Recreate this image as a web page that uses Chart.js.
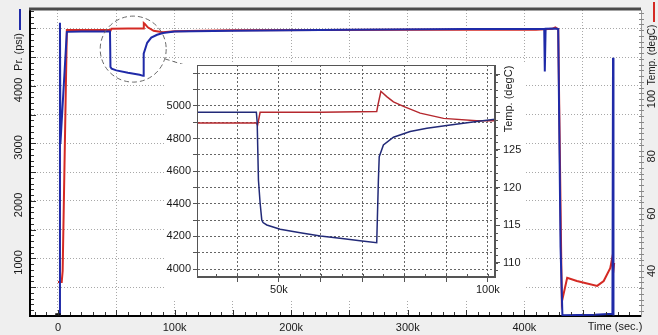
<!DOCTYPE html>
<html>
<head>
<meta charset="utf-8">
<script src="https://cdn.jsdelivr.net/npm/chart.js@4.4.1/dist/chart.umd.min.js"></script>
<style>
  html, body { margin: 0; padding: 0; background: #efefef; }
  #wrap { position: relative; width: 658px; height: 335px; overflow: hidden; }
  #grafico { position: absolute; left: 0; top: 0; }
  #detalhe { position: absolute; left: 164px; top: 64px; }
</style>
</head>
<body>
<div id="wrap">
  <canvas id="grafico" width="658" height="335" style="width:658px;height:335px"></canvas>
  <canvas id="detalhe" width="361" height="236" style="width:361px;height:236px"></canvas>
</div>
<script>
  // main chart: whole test
  const prTime  = [0, 1500, 1700, 2100, 7600, 20000, 44600, 45000, 46000, 50000, 60000, 70000, 73000, 73500, 76500, 80000, 85000, 90000, 100000, 150000, 250000, 350000, 417000, 417500, 418200, 427000, 429000, 431000, 432600, 460000, 475500, 476000, 476400];
  const prVal   = [0, 0, 5100, 3000, 4940, 4945, 4945, 4330, 4300, 4270, 4230, 4195, 4175, 4560, 4750, 4840, 4890, 4920, 4945, 4960, 4975, 4990, 4995, 4250, 4995, 5000, 4990, 1200, 15, 20, 40, 4490, 10];
  const tempTime = [0, 3200, 4000, 7600, 20000, 44600, 45000, 45800, 60000, 73000, 73600, 74500, 77000, 82000, 90000, 100000, 150000, 300000, 410000, 424000, 426500, 429000, 432100, 436700, 445000, 462400, 468000, 473600, 475300, 476100, 477000];
  const tempVal  = [36.2, 36.2, 40, 124.1, 124.1, 124.1, 123.8, 124.5, 124.6, 124.6, 126.5, 126.2, 125, 123.8, 123.3, 123.6, 124, 124.2, 124.2, 124.5, 125, 124.3, 29.2, 37.6, 36.5, 34.8, 36.5, 41, 44.5, 39.3, 42.8];

  const timeGrid = [0, 50000, 100000, 150000, 200000, 250000, 300000, 350000, 400000, 450000, 500000];
  const timeLabeled = [0, 100000, 200000, 300000, 400000];
  const psiGrid = [500, 1000, 1500, 2000, 2500, 3000, 3500, 4000, 4500, 5000];
  const psiLabels = [1000, 2000, 3000, 4000];
  const tempLabels = [40, 60, 80, 100];

  // inset: zoom on the drop between 30k and 100k
  const detTime = [30400, 44600, 44800, 45100, 45500, 45900, 46200, 47100, 50300, 55100, 59900, 64600, 69400, 73400, 73800, 74000, 75000, 77400, 81400, 85400, 91000, 97300, 101700];
  const detPr   = [4962, 4962, 4900, 4546, 4405, 4300, 4285, 4270, 4244, 4223, 4203, 4188, 4174, 4161, 4546, 4689, 4761, 4808, 4843, 4863, 4883, 4904, 4918];
  const detTempTime = [30400, 44600, 44900, 45500, 60000, 73400, 73700, 74400, 75800, 77400, 79800, 83800, 89400, 97300, 101700];
  const detTemp     = [128.6, 128.6, 128.3, 130.0, 130.0, 130.1, 131.0, 132.8, 132.1, 131.4, 130.8, 129.9, 129.2, 128.9, 128.9];

  const detTimeGrid = [40000, 50000, 60000, 70000, 80000, 90000, 100000];
  const detPsiGrid = [4000, 4100, 4200, 4300, 4400, 4500, 4600, 4700, 4800, 4900, 5000, 5100, 5200];
  const detPsiLabels = [4000, 4200, 4400, 4600, 4800, 5000];
  const detTempGrid = [110, 115, 120, 125, 130, 135];
  const detTempLabels = [110, 115, 120, 125];

  const fonte = "Arial, 'Liberation Sans', sans-serif";
  const azul = '#1f2aa8';
  const vermelho = '#d42a24';

  const pts = (xs, ys) => xs.map((x, i) => ({ x: x, y: ys[i] }));
  const fixTicks = vals => s => { s.ticks = vals.map(v => ({ value: v })); };
  // fixed axis size, no extra room for half labels
  const largura = w => s => { s.width = w; s.paddingTop = 0; s.paddingBottom = 0; };
  const altura = h => s => { s.height = h; s.paddingLeft = 0; s.paddingRight = 0; };

  function textoVertical(ctx, txt, x, y) {
    ctx.save();
    ctx.translate(x, y);
    ctx.rotate(-Math.PI / 2);
    ctx.textAlign = 'center';
    ctx.textBaseline = 'middle';
    ctx.fillText(txt, 0, 0);
    ctx.restore();
  }

  const decorPrincipal = {
    id: 'decorPrincipal',
    beforeDraw(chart) {
      const { ctx, chartArea: a } = chart;
      ctx.save();
      ctx.fillStyle = '#efefef';
      ctx.fillRect(0, 0, chart.width, chart.height);
      ctx.fillStyle = '#ffffff';
      ctx.fillRect(a.left, a.top, a.right - a.left, a.bottom - a.top);
      ctx.restore();
    },
    afterDraw(chart) {
      const { ctx, chartArea: a, scales: s } = chart;
      ctx.save();
      // top frame line
      ctx.strokeStyle = '#4a4a4a';
      ctx.lineWidth = 3;
      ctx.beginPath();
      ctx.moveTo(a.left - 1, a.top - 1);
      ctx.lineTo(a.right, a.top - 1);
      ctx.stroke();

      // minor ticks
      ctx.lineWidth = 1;
      ctx.strokeStyle = '#333';
      ctx.beginPath();
      for (let v = 100; v < 5320; v += 100) {
        const y = Math.round(s.y.getPixelForValue(v)) + 0.5;
        ctx.moveTo(a.left + 1, y);
        ctx.lineTo(a.left + 1 + (v % 500 === 0 ? 5 : 3), y);
      }
      for (let t = -20000; t < 500000; t += 10000) {
        const x = Math.round(s.x.getPixelForValue(t)) + 0.5;
        ctx.moveTo(x, a.bottom - 1);
        ctx.lineTo(x, a.bottom - 1 - (t % 50000 === 0 ? 5 : 3));
      }
      ctx.stroke();
      ctx.strokeStyle = '#888';
      ctx.beginPath();
      for (let v = 26; v < 131; v += 2) {
        const y = Math.round(s.y2.getPixelForValue(v)) + 0.5;
        ctx.moveTo(a.right - 2, y);
        ctx.lineTo(a.right + 3, y);
      }
      ctx.stroke();

      // axis labels
      ctx.fillStyle = '#1a1a1a';
      ctx.font = '11px ' + fonte;
      psiLabels.forEach(v => textoVertical(ctx, String(v), 19, s.y.getPixelForValue(v) + 4));
      tempLabels.forEach(v => textoVertical(ctx, String(v), 652, s.y2.getPixelForValue(v)));
      textoVertical(ctx, 'Pr. (psi)', 19, 52);
      ctx.textAlign = 'center';
      ctx.textBaseline = 'middle';
      ctx.fillText('Time (sec.)', 615, 327);
      ctx.font = '10px ' + fonte;
      textoVertical(ctx, 'Temp. (degC)', 652, 55);

      // legend marks
      ctx.lineWidth = 2;
      ctx.strokeStyle = azul;
      ctx.beginPath(); ctx.moveTo(20, 9); ctx.lineTo(20, 30); ctx.stroke();
      ctx.strokeStyle = vermelho;
      ctx.beginPath(); ctx.moveTo(654, 2); ctx.lineTo(654, 22); ctx.stroke();

      // zoom circle and leader line
      const cx = s.x.getPixelForValue(64500);
      const cy = s.y.getPixelForValue(4640);
      const r = 33;
      ctx.lineWidth = 1;
      ctx.strokeStyle = '#6a6a6a';
      ctx.setLineDash([5, 3]);
      ctx.beginPath();
      ctx.arc(cx, cy, r, 0, Math.PI * 2);
      ctx.stroke();
      const ex = 188, ey = 66;
      const ang = Math.atan2(ey - cy, ex - cx);
      ctx.beginPath();
      ctx.moveTo(cx + r * Math.cos(ang), cy + r * Math.sin(ang));
      ctx.lineTo(ex, ey);
      ctx.stroke();
      ctx.restore();
    }
  };

  new Chart(document.getElementById('grafico'), {
    type: 'line',
    data: {
      datasets: [
        {
          label: 'Pr. (psi)',
          data: pts(prTime, prVal),
          yAxisID: 'y',
          borderColor: azul,
          borderWidth: 2,
          pointRadius: c => c.dataIndex === 0 ? 2.5 : 0,
          pointStyle: 'rect',
          pointBackgroundColor: '#111',
          pointBorderColor: '#111'
        },
        {
          label: 'Temp. (degC)',
          data: pts(tempTime, tempVal),
          yAxisID: 'y2',
          borderColor: vermelho,
          borderWidth: 2,
          pointRadius: 0
        }
      ]
    },
    options: {
      responsive: false,
      animation: false,
      events: [],
      layout: { padding: { top: 10, left: 0, right: 0, bottom: 0 } },
      plugins: { legend: { display: false }, tooltip: { enabled: false } },
      scales: {
        x: {
          type: 'linear',
          min: -24000,
          max: 500000,
          afterBuildTicks: fixTicks(timeGrid),
          afterFit: altura(19),
          grid: { color: '#a8a8a8', drawTicks: false },
          border: { color: '#000', width: 2, dash: [1, 2] },
          ticks: {
            autoSkip: false,
            maxRotation: 0,
            padding: 5,
            color: '#1a1a1a',
            font: { family: fonte, size: 11 },
            callback: v => timeLabeled.includes(v) ? (v === 0 ? '0' : (v / 1000) + 'k') : ''
          }
        },
        y: {
          position: 'left',
          min: 0,
          max: 5320,
          afterBuildTicks: fixTicks(psiGrid),
          afterFit: largura(30),
          grid: { color: '#a8a8a8', drawTicks: false },
          border: { color: '#000', width: 2, dash: [1, 2] },
          ticks: { display: false }
        },
        y2: {
          position: 'right',
          min: 24.3,
          max: 131.05,
          afterFit: largura(17),
          grid: { drawOnChartArea: false, drawTicks: false },
          border: { color: '#999', width: 1 },
          ticks: { display: false }
        }
      }
    },
    plugins: [decorPrincipal]
  });

  const decorDetalhe = {
    id: 'decorDetalhe',
    beforeDraw(chart) {
      const { ctx } = chart;
      ctx.save();
      ctx.fillStyle = '#ffffff';
      ctx.fillRect(0, 0, chart.width, chart.height);
      ctx.restore();
    },
    afterDraw(chart) {
      const { ctx, chartArea: a, scales: s } = chart;
      ctx.save();
      ctx.strokeStyle = '#555';
      ctx.lineWidth = 1;
      ctx.strokeRect(a.left + 0.5, a.top + 0.5, a.right - a.left - 1, a.bottom - a.top - 1);
      ctx.beginPath();
      for (let t = 35000; t < 101700; t += 5000) {
        const x = Math.round(s.x.getPixelForValue(t)) + 0.5;
        ctx.moveTo(x, a.bottom);
        ctx.lineTo(x, a.bottom - 3);
      }
      for (let v = 109; v < 136; v += 1) {
        const y = Math.round(s.y2.getPixelForValue(v)) + 0.5;
        ctx.moveTo(a.right, y);
        ctx.lineTo(a.right + 3, y);
      }
      ctx.stroke();
      ctx.fillStyle = '#1a1a1a';
      ctx.font = '11px ' + fonte;
      textoVertical(ctx, 'Temp. (degC)', 345, 35);
      ctx.restore();
    }
  };

  new Chart(document.getElementById('detalhe'), {
    type: 'line',
    data: {
      datasets: [
        {
          label: 'Pr. (psi)',
          data: pts(detTime, detPr),
          yAxisID: 'y',
          borderColor: '#222a78',
          borderWidth: 1.5,
          pointRadius: 0
        },
        {
          label: 'Temp. (degC)',
          data: pts(detTempTime, detTemp),
          yAxisID: 'y2',
          borderColor: '#b5282e',
          borderWidth: 1.5,
          pointRadius: 0
        }
      ]
    },
    options: {
      responsive: false,
      animation: false,
      events: [],
      layout: { padding: { top: 1, left: 0, right: 0, bottom: 0 } },
      plugins: { legend: { display: false }, tooltip: { enabled: false } },
      scales: {
        x: {
          type: 'linear',
          min: 30400,
          max: 101700,
          afterBuildTicks: fixTicks(detTimeGrid),
          afterFit: altura(23),
          grid: { color: '#666', tickLength: 5, tickColor: '#555' },
          border: { color: '#555', width: 1, dash: [2, 2] },
          ticks: {
            autoSkip: false,
            maxRotation: 0,
            padding: 1,
            color: '#1a1a1a',
            font: { family: fonte, size: 11 },
            callback: v => v === 50000 ? '50k' : (v === 100000 ? '100k' : '')
          }
        },
        y: {
          position: 'left',
          min: 3951,
          max: 5251,
          afterBuildTicks: fixTicks(detPsiGrid),
          afterFit: largura(33),
          grid: { color: '#666', tickLength: 4, tickColor: '#555' },
          border: { color: '#555', width: 1, dash: [2, 2] },
          ticks: {
            autoSkip: false,
            padding: 2,
            color: '#1a1a1a',
            font: { family: fonte, size: 11 },
            callback: v => detPsiLabels.includes(v) ? String(v) : ''
          }
        },
        y2: {
          position: 'right',
          min: 108.1,
          max: 136.3,
          afterBuildTicks: fixTicks(detTempGrid),
          afterFit: largura(30),
          grid: { drawOnChartArea: false, tickLength: 5, color: '#555' },
          border: { color: '#555', width: 1 },
          ticks: {
            autoSkip: false,
            padding: 3,
            color: '#1a1a1a',
            font: { family: fonte, size: 11 },
            callback: v => detTempLabels.includes(v) ? String(v) : ''
          }
        }
      }
    },
    plugins: [decorDetalhe]
  });
</script>
</body>
</html>
